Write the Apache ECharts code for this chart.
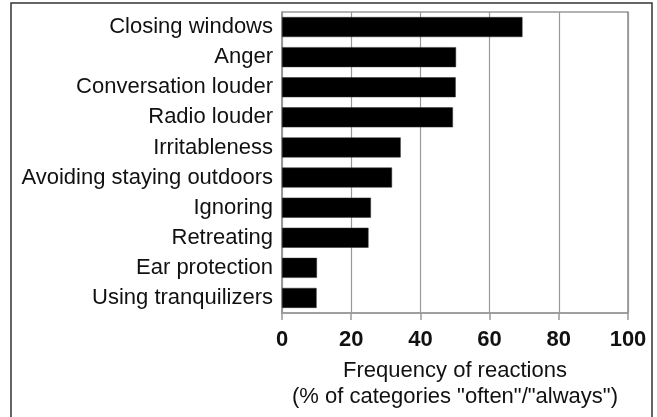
<!DOCTYPE html>
<html>
<head>
<meta charset="utf-8">
<script src="https://cdn.jsdelivr.net/npm/echarts@6/dist/echarts.min.js"></script>
<style>html,body{margin:0;padding:0;background:#fff;}#c{width:657px;height:417px;}</style>
</head>
<body>
<div id="c"></div>
<script>
const categories = ["Closing windows","Anger","Conversation louder","Radio louder","Irritableness","Avoiding staying outdoors","Ignoring","Retreating","Ear protection","Using tranquilizers"];
const values = [69.5, 50.3, 50.2, 49.4, 34.3, 31.8, 25.7, 25.0, 10.1, 10.0];
const xTicks = [0, 20, 40, 60, 80, 100];
const axisTitle = 'Frequency of reactions\n(% of categories "often"/"always")';

const FONT = '"Liberation Sans", Arial, sans-serif';
const chart = echarts.init(document.getElementById('c'), null, {renderer: 'canvas'});
chart.setOption({
  animation: false,
  backgroundColor: '#fff',
  graphic: [{
    type: 'rect', silent: true,
    shape: {x: 11, y: 3, width: 641, height: 425},
    style: {fill: 'none', stroke: '#333', lineWidth: 1.5}
  }],
  grid: {left: 282, right: 29, top: 12, bottom: 104, show: true, borderColor: '#666', borderWidth: 1.2, backgroundColor: 'transparent'},
  xAxis: {
    type: 'value', min: xTicks[0], max: xTicks[xTicks.length - 1], interval: xTicks[1] - xTicks[0],
    axisLine: {show: true, lineStyle: {color: '#999', width: 1.5}},
    axisTick: {show: true, length: 7, lineStyle: {color: '#999', width: 1.5}},
    splitLine: {show: true, lineStyle: {color: '#999', width: 1.2}},
    axisLabel: {fontFamily: FONT, fontSize: 22, fontWeight: 'bold', color: '#111', margin: 16},
    name: axisTitle, nameLocation: 'middle', nameGap: 45,
    nameTextStyle: {fontFamily: FONT, fontSize: 22, color: '#111', lineHeight: 26, align: 'center'}
  },
  yAxis: {
    type: 'category', data: categories, inverse: true,
    axisLine: {show: true, lineStyle: {color: '#999', width: 1.5}},
    axisTick: {show: false},
    splitLine: {show: false},
    axisLabel: {fontFamily: FONT, fontSize: 22, color: '#111', margin: 9}
  },
  series: [{
    type: 'bar', data: values, barWidth: 20,
    itemStyle: {color: '#000', borderColor: '#333', borderWidth: 0.5}
  }]
});
</script>
</body>
</html>
